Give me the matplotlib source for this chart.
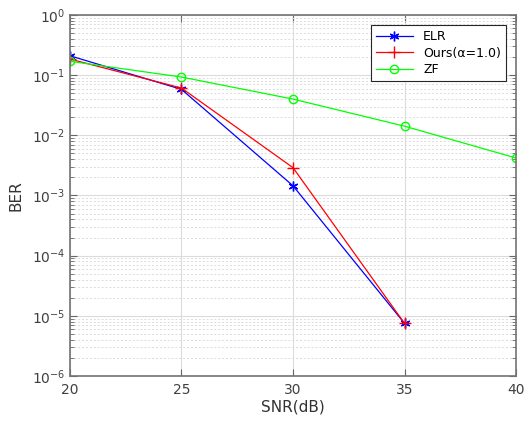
import numpy as np
import matplotlib
matplotlib.use("Agg")
import matplotlib.pyplot as plt
from matplotlib.ticker import FixedLocator, NullFormatter

snr = [20, 25, 30, 35, 40]
ber_elr = [0.21, 0.058, 1.45e-3, 7.5e-6]
ber_ours = [0.185, 0.061, 2.9e-3, 7.5e-6]
ber_zf = [0.17, 0.093, 0.040, 0.0142, 4.2e-3]

fig = plt.figure(figsize=(5.31, 4.21), dpi=100)
ax = fig.add_axes([0.1318, 0.1069, 0.84, 0.8575])

# asterisk marker like MATLAB's '*'
ax.semilogy(snr[:4], ber_elr, color=(0, 0, 1), marker=(6, 2, 0), markersize=7,
            markeredgewidth=1, linewidth=0.9, label="ELR")
ax.semilogy(snr[:4], ber_ours, color=(1, 0, 0), marker="+", markersize=8,
            markeredgewidth=1, linewidth=0.9, label="Ours(\u03b1=1.0)")
ax.semilogy(snr, ber_zf, color=(0, 1, 0), marker="o", markersize=6,
            markerfacecolor="none", markeredgewidth=1, linewidth=0.9, label="ZF")

decades = np.arange(-6, 1)
ax.set_xlim(20, 40)
ax.set_ylim(1e-6, 1)
ax.set_xticks(snr)
ax.set_yticks(10.0 ** decades)
minor = [m * 10.0 ** d for d in decades[:-1] for m in range(2, 10)]
ax.yaxis.set_minor_locator(FixedLocator(minor))
ax.yaxis.set_minor_formatter(NullFormatter())

ax.grid(True, which="major", color=(0.86, 0.86, 0.86), linewidth=0.8)
ax.grid(True, which="minor", axis="y", color=(0.86, 0.86, 0.86),
        linestyle=(0, (2, 2)), linewidth=0.7)
ax.set_axisbelow(True)

for sp in ax.spines.values():
    sp.set_color((0.45, 0.45, 0.45))
    sp.set_linewidth(1.2)
ax.tick_params(which="both", direction="in", top=True, right=True,
               colors=(0.4, 0.4, 0.4), labelcolor=(0.25, 0.25, 0.25), labelsize=10)
ax.tick_params(which="major", length=5)
ax.tick_params(which="minor", length=3)
ax.tick_params(axis="x", pad=5)

ax.set_xlabel("SNR(dB)", fontsize=11, color=(0.2, 0.2, 0.2), labelpad=2)
ax.set_ylabel("BER", fontsize=11, color=(0.2, 0.2, 0.2), labelpad=6)

leg = ax.legend(loc="upper right", fontsize=9, fancybox=False, framealpha=1,
                edgecolor=(0.15, 0.15, 0.15), borderaxespad=0.8,
                handlelength=3, labelspacing=0.3)
leg.get_frame().set_linewidth(0.8)

fig.savefig("out.png", dpi=100)
